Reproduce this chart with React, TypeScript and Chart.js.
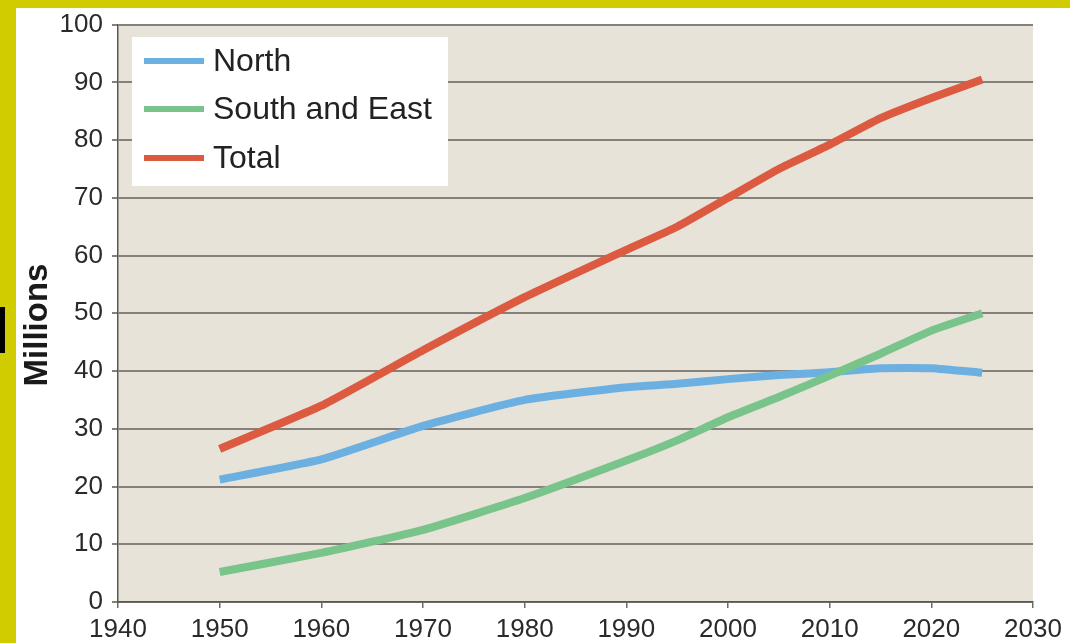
import React, { useEffect, useRef } from "react";
import { Chart, registerables } from "chart.js";

Chart.register(...registerables);

// ---- data ----
const years = [1950, 1960, 1970, 1980, 1990, 1995, 2000, 2005, 2010, 2015, 2020, 2025];
const north = [21.2, 24.7, 30.5, 35.0, 37.2, 37.8, 38.6, 39.3, 39.8, 40.5, 40.5, 39.7];
const southEast = [5.2, 8.5, 12.5, 18.0, 24.5, 28.0, 32.0, 35.5, 39.2, 43.0, 47.0, 50.0];
const total = [26.5, 34.0, 43.6, 52.8, 61.0, 65.0, 70.0, 75.0, 79.2, 83.8, 87.3, 90.5];
const seriesLabels = ["North", "South and East", "Total"];
const xTickValues = [1940, 1950, 1960, 1970, 1980, 1990, 2000, 2010, 2020, 2030];
const yTickValues = [0, 10, 20, 30, 40, 50, 60, 70, 80, 90, 100];
const yAxisTitle = "Millions";

const FONT = "'Liberation Sans', Arial, Helvetica, sans-serif";
const COLORS = ["#6cb0e2", "#79c48b", "#dc5a40"];

export default function App() {
  const canvasRef = useRef<HTMLCanvasElement | null>(null);

  useEffect(() => {
    const canvas = canvasRef.current;
    if (!canvas) return;

    const toPts = (vals: number[]) => years.map((x, i) => ({ x, y: vals[i] }));

    const plotBg = {
      id: "plotBg",
      beforeDraw(chart: any) {
        const { ctx, chartArea } = chart;
        ctx.save();
        ctx.fillStyle = "#e7e3d9";
        ctx.fillRect(chartArea.left, chartArea.top, chartArea.right - chartArea.left, chartArea.bottom - chartArea.top);
        ctx.restore();
      },
    };

    const overlay = {
      id: "overlay",
      afterDraw(chart: any) {
        const { ctx } = chart;
        ctx.save();
        // legend box
        ctx.fillStyle = "#ffffff";
        ctx.fillRect(132, 37, 316, 149);
        const rows = [61, 109, 158];
        chart.data.datasets.forEach((ds: any, i: number) => {
          ctx.strokeStyle = ds.borderColor;
          ctx.lineWidth = 6;
          ctx.lineCap = "butt";
          ctx.beginPath();
          ctx.moveTo(144, rows[i]);
          ctx.lineTo(204, rows[i]);
          ctx.stroke();
          ctx.fillStyle = "#222222";
          ctx.font = `32px ${FONT}`;
          ctx.textAlign = "left";
          ctx.textBaseline = "middle";
          ctx.fillText(ds.label, 213, rows[i] + 1);
        });
        // y axis title
        ctx.translate(38, 325);
        ctx.rotate(-Math.PI / 2);
        ctx.fillStyle = "#1a1a1a";
        ctx.font = `bold 33px ${FONT}`;
        ctx.textAlign = "center";
        ctx.textBaseline = "middle";
        ctx.fillText(yAxisTitle, 0, 0);
        ctx.restore();
      },
    };

    const chart = new Chart(canvas, {
      type: "line",
      data: {
        datasets: [
          { label: seriesLabels[0], data: toPts(north), borderColor: COLORS[0], order: 1 },
          { label: seriesLabels[1], data: toPts(southEast), borderColor: COLORS[1], order: 0 },
          { label: seriesLabels[2], data: toPts(total), borderColor: COLORS[2], order: 0 },
        ].map((d) => ({
          ...d,
          borderWidth: 8,
          pointRadius: 0,
          pointHoverRadius: 0,
          tension: 0.15,
          fill: false,
          borderCapStyle: "butt" as const,
          borderJoinStyle: "round" as const,
        })),
      },
      options: {
        animation: false,
        responsive: false,
        maintainAspectRatio: false,
        layout: { padding: { top: 23, right: 37, left: 0, bottom: 0 } },
        plugins: { legend: { display: false }, tooltip: { enabled: false } },
        scales: {
          x: {
            type: "linear",
            min: 1940,
            max: 2030,
            afterFit: (s: any) => { s.height = 41; },
            afterBuildTicks: (s: any) => { s.ticks = xTickValues.map((v) => ({ value: v })); },
            ticks: {
              callback: (v: any) => String(v),
              color: "#2a2a2a",
              font: { family: FONT, size: 26 },
              padding: 6,
              maxRotation: 0,
              autoSkip: false,
            },
            grid: { drawOnChartArea: false, drawTicks: true, tickLength: 6, color: "#6f6c66", lineWidth: 1.5 },
            border: { display: true, color: "#5a5853", width: 1.5 },
          },
          y: {
            type: "linear",
            min: 0,
            max: 100,
            afterFit: (s: any) => { s.width = 118; },
            afterBuildTicks: (s: any) => { s.ticks = yTickValues.map((v) => ({ value: v })); },
            ticks: {
              callback: (v: any) => String(v),
              color: "#2a2a2a",
              font: { family: FONT, size: 26 },
              padding: 9,
              autoSkip: false,
            },
            grid: { drawOnChartArea: true, drawTicks: true, tickLength: 6, color: "#85817a", lineWidth: 2 },
            border: { display: true, color: "#5a5853", width: 1.5 },
          },
        },
      },
      plugins: [plotBg, overlay],
    });

    return () => chart.destroy();
  }, []);

  return (
    <div style={{ position: "fixed", left: 0, top: 0, width: 1070, height: 643, background: "#d0cc00", overflow: "hidden" }}>
      <div style={{ position: "absolute", left: 16, top: 8, right: 0, bottom: 0, background: "#ffffff" }} />
      <div style={{ position: "absolute", left: 0, top: 307, width: 5, height: 46, background: "#000000" }} />
      <canvas
        ref={canvasRef}
        width={1070}
        height={643}
        style={{ position: "absolute", left: 0, top: 0, width: 1070, height: 643, display: "block" }}
      />
    </div>
  );
}
